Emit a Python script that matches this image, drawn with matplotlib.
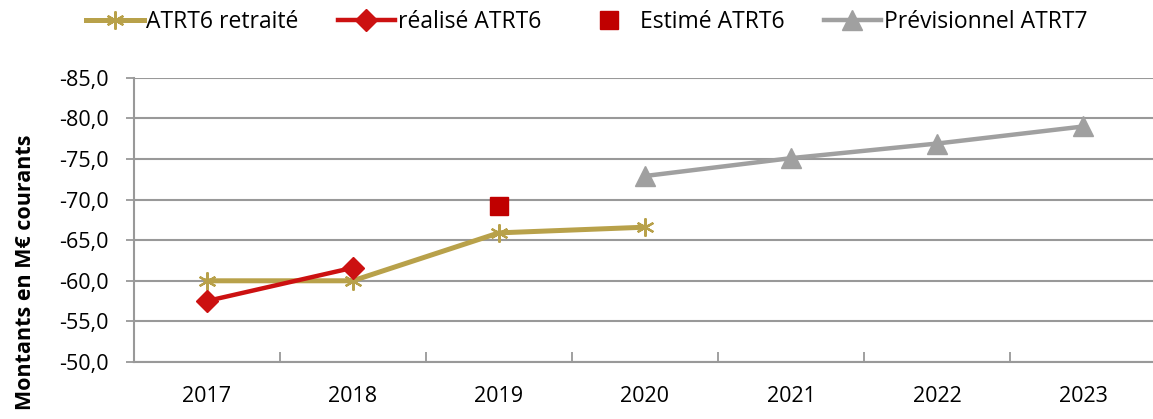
import numpy as np
import matplotlib
matplotlib.use('Agg')
import matplotlib.pyplot as plt
from matplotlib.ticker import FuncFormatter, FixedLocator

plt.rcParams['font.family'] = ['Open Sans', 'DejaVu Sans']

# Données
annees = ['2017', '2018', '2019', '2020', '2021', '2022', '2023']
retraite_x = [0, 1, 2, 3]
retraite_y = [-60.0, -60.0, -65.9, -66.6]
realise_x = [0, 1]
realise_y = [-57.5, -61.6]
estime_x = [2]
estime_y = [-69.2]
previ_x = [3, 4, 5, 6]
previ_y = [-72.9, -75.1, -76.9, -79.0]

gold = '#B8A14A'
red = '#CC1111'
dark_red = '#C00000'
grey = '#A0A0A0'
axis_grey = '#999999'

fig = plt.figure(figsize=(11.53, 4.19), dpi=100)
ax = fig.add_axes([0.1158, 0.136, 0.8872, 0.6785])

ax.plot(retraite_x, retraite_y, color=gold, lw=3.6, marker=(6, 2, 0),
        markersize=13, markeredgewidth=1.6, markeredgecolor=gold,
        label='ATRT6 retraité', zorder=3)
ax.plot(realise_x, realise_y, color=red, lw=3.2, marker='D',
        markersize=11, markeredgecolor=red, label='réalisé ATRT6', zorder=4)
ax.plot(estime_x, estime_y, color=dark_red, lw=0, marker='s',
        markersize=13, label='Estimé ATRT6', zorder=4)
ax.plot(previ_x, previ_y, color=grey, lw=3.2, marker='^',
        markersize=14, label='Prévisionnel ATRT7', zorder=3)

ax.set_xlim(-0.5, len(annees) - 0.5)
ax.set_ylim(-50, -85)
ax.set_yticks(np.arange(-85, -49, 5))
ax.yaxis.set_major_formatter(FuncFormatter(lambda v, p: f'{v:.1f}'.replace('.', ',')))
ax.grid(axis='y', color=axis_grey, lw=1.5)
ax.set_axisbelow(True)

ax.set_xticks(range(len(annees)))
ax.set_xticklabels(annees)
ax.xaxis.set_minor_locator(FixedLocator(np.arange(0.5, len(annees) - 0.5, 1)))
ax.tick_params(axis='x', which='major', length=0, pad=17, labelsize=15.5)
ax.tick_params(axis='x', which='minor', direction='in', length=7, width=1.3, color=axis_grey)
ax.tick_params(axis='y', length=6, width=1.3, color=axis_grey, labelsize=15.5, pad=12)

for s in ['top', 'right']:
    ax.spines[s].set_visible(False)
for s in ['left', 'bottom']:
    ax.spines[s].set_color(axis_grey)
    ax.spines[s].set_linewidth(1.5)

fig.text(0.022, 0.35, 'Montants en M€ courants', rotation=90, fontsize=15.5,
         fontweight='bold', ha='center', va='center')

fig.legend(loc='center', bbox_to_anchor=(0.509, 0.947), ncol=4, frameon=False,
           fontsize=16.5, handlelength=2.5, handletextpad=0.12, columnspacing=1.7,
           borderaxespad=0, borderpad=0)

fig.savefig('out.png', dpi=100)
